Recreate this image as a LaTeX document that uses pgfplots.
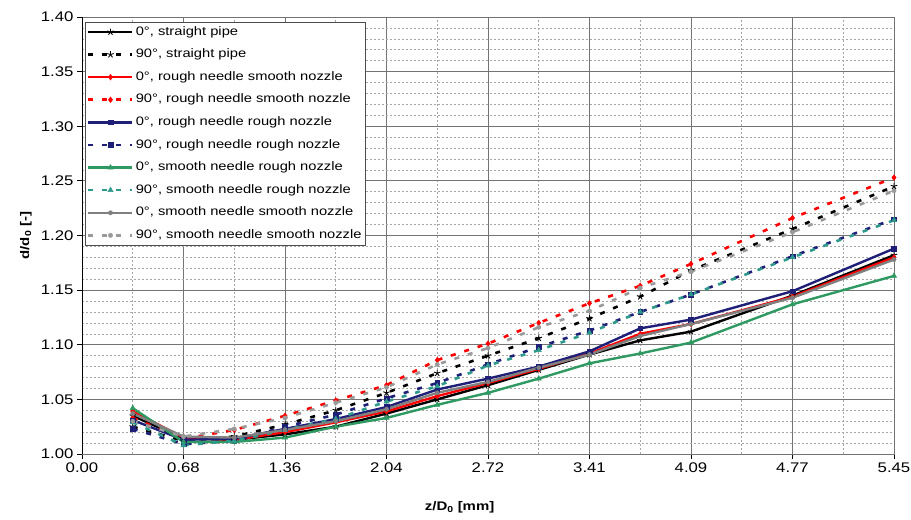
\documentclass[border=0pt]{standalone}
\usepackage{pgfplots}
\usepackage{pgfplotstable}
\pgfplotsset{compat=1.18}
\usepackage{fontspec}
\setmainfont[FakeStretch=1.2]{Liberation Sans}
\definecolor{cnavy}{HTML}{1F1F78}
\definecolor{cred}{HTML}{FF0000}
\definecolor{cgreen}{HTML}{2E9A62}
\definecolor{cteal}{HTML}{2E9A8C}
\definecolor{cgray}{HTML}{808080}
\definecolor{clgray}{HTML}{9A9A9A}

\pgfplotstableread{
k  bs     bd     rs     rd     ns     nd     gs     gd     ys     yd
1  1.035  1.025  1.039  1.033  1.031  1.023  1.042  1.029  1.037  1.030
2  1.014  1.012  1.015  1.014  1.013  1.009  1.011  1.008  1.016  1.016
3  1.013  1.016  1.013  1.022  1.014  1.012  1.011  1.012  1.015  1.023
4  1.018  1.027  1.020  1.035  1.023  1.025  1.015  1.022  1.022  1.033
5  1.025  1.040  1.029  1.049  1.032  1.036  1.025  1.032  1.030  1.047
6  1.037  1.056  1.039  1.063  1.043  1.051  1.033  1.048  1.041  1.061
7  1.050  1.074  1.053  1.086  1.059  1.065  1.045  1.062  1.056  1.082
8  1.063  1.090  1.065  1.101  1.069  1.082  1.056  1.081  1.066  1.097
9  1.077  1.106  1.078  1.120  1.080  1.098  1.069  1.095  1.079  1.116
10 1.091  1.124  1.092  1.138  1.094  1.113  1.083  1.111  1.091  1.131
11 1.104  1.144  1.110  1.154  1.115  1.130  1.092  1.130  1.108  1.152
12 1.112  1.168  1.119  1.174  1.123  1.146  1.102  1.146  1.119  1.167
14 1.145  1.206  1.144  1.216  1.149  1.181  1.137  1.180  1.143  1.203
16 1.182  1.245  1.180  1.253  1.188  1.215  1.163  1.214  1.178  1.241
}\datatable

\tikzset{
  sol/.style={line width=2.4bp, solid},
  dsh/.style={line width=2.6bp, dash pattern=on 5bp off 9bp},
}

\begin{document}
\begin{tikzpicture}
\begin{axis}[
  scale only axis, width=812bp, height=437bp,
  xmin=0, xmax=16, ymin=1, ymax=1.4,
  xtick={0,2,4,6,8,10,12,14,16},
  xticklabels={0.00,0.68,1.36,2.04,2.72,3.41,4.09,4.77,5.45},
  minor xtick={1,3,5,7,9,11,13,15},
  ytick={1.00,1.05,1.10,1.15,1.20,1.25,1.30,1.35,1.40},
  minor y tick num=4,
  yticklabel style={/pgf/number format/.cd, fixed, fixed zerofill, precision=2},
  /pgf/number format/assume math mode=true,
  grid=both,
  major grid style={draw=black!55, line width=0.9bp},
  minor grid style={draw=black!35, line width=0.6bp, dash pattern=on 2bp off 2bp},
  tick pos=left, tick align=outside,
  major tick length=5bp, minor tick length=0bp,
  tick style={black, line width=0.8bp},
  axis line style={draw=black!55, line width=0.9bp},
  ticklabel style={font=\fontsize{14}{16}\selectfont},
  xlabel={\bfseries z/D\textsubscript{0} [mm]},
  ylabel={\bfseries d/d\textsubscript{0} [-]},
  label style={font=\fontsize{12.5}{15}\selectfont},
  xlabel style={at={(axis description cs:0.465,-0.121)}, anchor=center},
  ylabel style={at={(axis description cs:-0.069,0.5)}, anchor=center},
  legend cell align=left,
  legend style={at={(0.0037,0.9886)}, anchor=north west, draw=black!70, fill=white,
    font=\fontsize{12.3}{14}\selectfont, inner xsep=2bp, inner ysep=2bp, row sep=7bp,
    nodes={inner sep=2bp, text height=9bp, text depth=2.6bp}},
  legend image code/.code={\draw[mark repeat=2,mark phase=2] plot coordinates {(0bp,0bp) (22bp,0bp) (44bp,0bp)};},
]
\addplot[black, sol, mark=star, mark size=3.4bp, mark options={solid, line width=0.9bp}] table[x=k,y=bs]{\datatable};
\addlegendentry{0°, straight pipe}
\addplot[black, dsh, mark=star, mark size=3.4bp, mark options={solid, line width=0.9bp}] table[x=k,y=bd]{\datatable};
\addlegendentry{90°, straight pipe}
\addplot[cred, sol, mark=diamond*, mark size=2.8bp, mark options={solid, line width=0.5bp}] table[x=k,y=rs]{\datatable};
\addlegendentry{0°, rough needle smooth nozzle}
\addplot[cred, dsh, mark=diamond*, mark size=2.8bp, mark options={solid, line width=0.5bp}] table[x=k,y=rd]{\datatable};
\addlegendentry{90°, rough needle smooth nozzle}
\addplot[cnavy, sol, mark=square*, mark size=2.3bp, mark options={solid, line width=0.5bp}] table[x=k,y=ns]{\datatable};
\addlegendentry{0°, rough needle rough nozzle}
\addplot[cnavy, dsh, mark=square*, mark size=2.3bp, mark options={solid, line width=0.5bp}] table[x=k,y=nd]{\datatable};
\addlegendentry{90°, rough needle rough nozzle}
\addplot[cgreen, sol, mark=triangle*, mark size=3bp, mark options={solid, line width=0.5bp}] table[x=k,y=gs]{\datatable};
\addlegendentry{0°, smooth needle rough nozzle}
\addplot[cteal, dsh, mark=triangle*, mark size=3bp, mark options={solid, line width=0.5bp}] table[x=k,y=gd]{\datatable};
\addlegendentry{90°, smooth needle rough nozzle}
\addplot[cgray, sol, mark=*, mark size=2.1bp, mark options={solid, line width=0.5bp}] table[x=k,y=ys]{\datatable};
\addlegendentry{0°, smooth needle smooth nozzle}
\addplot[clgray, dsh, mark=*, mark size=2.1bp, mark options={solid, line width=0.5bp}] table[x=k,y=yd]{\datatable};
\addlegendentry{90°, smooth needle smooth nozzle}
\draw[black, line width=1bp] (rel axis cs:0,1) -- (rel axis cs:0,0) -- (rel axis cs:1,0);
\end{axis}
\pgfresetboundingbox
\path ([shift={(-82bp,-66bp)}]current axis.south west) rectangle ([shift={(17bp,17bp)}]current axis.north east);
\end{tikzpicture}
\end{document}
